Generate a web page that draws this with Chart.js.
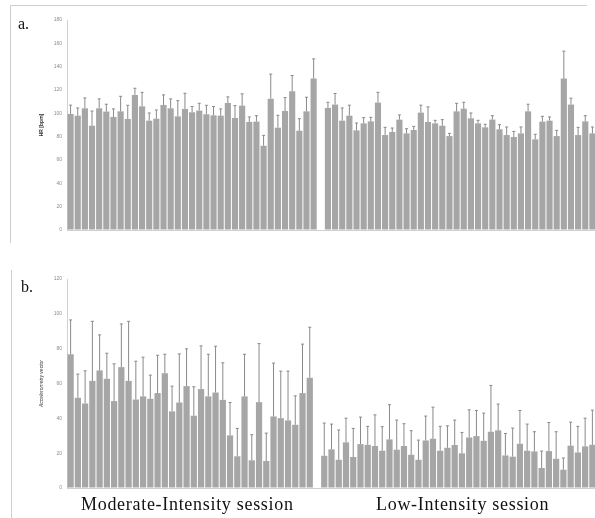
<!DOCTYPE html>
<html>
<head>
<meta charset="utf-8">
<script src="https://cdn.jsdelivr.net/npm/chart.js@4.4.1/dist/chart.umd.min.js"></script>
<style>
  html, body { margin: 0; padding: 0; width: 595px; height: 518px; overflow: hidden; background: #fff; }
  .wrap { position: absolute; }
  .lbl { position: absolute; font-family: "Liberation Serif", "DejaVu Serif", serif; color: #111; white-space: nowrap; }
  .frame { position: absolute; background: #cfcfcf; }
</style>
</head>
<body>
<div class="frame" style="left:10px;top:5px;width:577px;height:1px;"></div>
<div class="frame" style="left:10px;top:5px;width:1px;height:238px;"></div>
<div class="frame" style="left:11px;top:270px;width:1px;height:248px;"></div>

<div class="wrap" style="left:0;top:0;width:600px;height:245px;"><canvas id="chartA" width="600" height="245"></canvas></div>
<div class="wrap" style="left:0;top:260px;width:600px;height:240px;"><canvas id="chartB" width="600" height="240"></canvas></div>

<div class="lbl" style="left:18px;top:15px;font-size:16px;">a.</div>
<div class="lbl" style="left:21px;top:278px;font-size:16px;">b.</div>
<div class="lbl" style="left:81px;top:494px;font-size:18px;letter-spacing:0.7px;">Moderate-Intensity session</div>
<div class="lbl" style="left:376px;top:494px;font-size:18px;letter-spacing:0.7px;">Low-Intensity session</div>

<script>
// ---- Panel a: heart rate (bpm), mean and SD per participant ----
const hrModerate = [99.5, 98, 104.3, 89.4, 104.3, 101.5, 96.9, 101.7, 95.2, 115.8, 106, 93.7, 95.4, 107.2, 104.3, 97.4, 103.8, 100.9, 102.3, 99.2, 98.3, 98, 108.9, 96, 106.6, 92.6, 92.9, 72.2, 112.6, 87.7, 102, 118.9, 85.1, 101.7, 129.8];
const hrModerateSD = [7.5, 6.6, 8.9, 12.6, 8.1, 6.3, 6.9, 12.9, 11.7, 5.7, 12, 6.6, 7.5, 8.6, 8.1, 13.5, 13.4, 4.9, 6.3, 7.7, 7.5, 5.8, 5.2, 10.6, 10.1, 4.3, 5.1, 8.9, 21, 10.6, 11.5, 13.5, 10.3, 12.1, 16.9];
const hrLow = [104.6, 107.5, 93.7, 98, 85.4, 91.4, 93.1, 109.2, 81.4, 84, 94.6, 82.8, 85.7, 100.6, 92.6, 91.4, 89.4, 80.5, 101.7, 104, 95.7, 91.4, 88, 94.6, 86.3, 81.4, 79.7, 82.8, 101.7, 77.7, 92.9, 93.7, 80.5, 129.8, 107.5, 81.4, 93.1, 82.8];
const hrLowSD = [4.9, 9.5, 10.9, 9, 6.3, 4.9, 3.5, 8.8, 6.6, 3.4, 4, 4, 3.1, 6.4, 12.9, 2.6, 5.2, 2.3, 6.9, 5.5, 4.6, 2.6, 2.6, 3.4, 4, 6.9, 4.8, 5.5, 6.1, 4.3, 4.5, 3.2, 4.9, 23.5, 5.5, 6.6, 4.9, 5.5];

// ---- Panel b: accelerometry vector, mean and SD per participant ----
const accModerate = [76.8, 51.8, 48.5, 61.5, 67.5, 62.7, 49.9, 69.4, 61.5, 50.8, 52.6, 51.2, 54.5, 65.9, 44, 49.1, 58.5, 41.5, 56.8, 52.6, 54.8, 50.6, 30.2, 18.2, 52.6, 15.9, 49.3, 15.5, 41.1, 40.1, 38.8, 36.3, 54.5, 63.3];
const accModerateSD = [19.7, 13.6, 18.8, 34.2, 20.4, 14.7, 21.4, 24.8, 34.2, 22, 22.5, 13.6, 21.7, 10.9, 14.5, 27.9, 21.4, 16.6, 24.8, 24.2, 26.6, 21.3, 18.9, 16, 24.2, 14.7, 33.6, 16, 30.6, 27, 28.3, 16.6, 28.1, 29];
const accLow = [18.5, 22.2, 16.2, 26.2, 17.8, 25.2, 24.8, 24.1, 21.4, 27.9, 22, 24.1, 19.1, 16.2, 27.3, 28.3, 21.4, 23.1, 24.7, 19.9, 29, 29.8, 27.1, 32.3, 33.1, 18.7, 18, 25.4, 21.4, 21, 11.5, 21.2, 16.8, 10.5, 24.3, 20.4, 23.9, 24.8];
const accLowSD = [18.8, 14.5, 17.1, 13.9, 16.4, 15.5, 10.6, 17.9, 13.8, 19.9, 17, 12.8, 13.8, 11.3, 14, 18.1, 14, 12.6, 14.3, 12, 15.9, 14.7, 15.9, 26.6, 15.1, 12.6, 16.4, 19.1, 15.3, 11.3, 9.7, 16.4, 15.5, 6.7, 13.5, 15, 16.2, 19.9];

const hrTicks = [0, 20, 40, 60, 80, 100, 120, 140, 160, 180];
const accTicks = [0, 20, 40, 60, 80, 100, 120];

Chart.defaults.font.family = '"Liberation Sans", Arial, sans-serif';

function labelsFor(mod, low) {
  return [...mod.map((_, i) => 'M' + (i + 1)), '', ...low.map((_, i) => 'L' + (i + 1))];
}

const errorBars = {
  id: 'errorBars',
  afterDatasetsDraw(chart) {
    const ctx = chart.ctx;
    const ys = chart.scales.y;
    chart.data.datasets.forEach((ds, di) => {
      const meta = chart.getDatasetMeta(di);
      meta.data.forEach((el, i) => {
        const v = ds.data[i];
        const sd = ds.sd[i];
        if (v == null || sd == null) return;
        const yt = ys.getPixelForValue(v + sd);
        ctx.save();
        ctx.strokeStyle = '#8a8a8a';
        ctx.lineWidth = 1;
        ctx.beginPath();
        ctx.moveTo(el.x, el.y);
        ctx.lineTo(el.x, yt);
        ctx.moveTo(el.x - 1.5, yt);
        ctx.lineTo(el.x + 1.5, yt);
        ctx.stroke();
        ctx.restore();
      });
    });
  }
};

function makeChart(id, mod, modSD, low, lowSD, ticks, title, titleFont, pad) {
  const data = [...mod, null, ...low];
  const sd = [...modSD, null, ...lowSD];
  return new Chart(document.getElementById(id), {
    type: 'bar',
    data: {
      labels: labelsFor(mod, low),
      datasets: [{
        data: data,
        sd: sd,
        backgroundColor: '#a6a6a6',
        borderWidth: 0,
        categoryPercentage: 1.0,
        barPercentage: 0.86
      }]
    },
    options: {
      responsive: false,
      animation: false,
      layout: { padding: pad },
      plugins: { legend: { display: false }, tooltip: { enabled: false } },
      scales: {
        x: { display: false },
        y: {
          min: ticks[0],
          max: ticks[ticks.length - 1],
          afterBuildTicks(scale) { scale.ticks = ticks.map(v => ({ value: v })); },
          afterFit(scale) { scale.width = 32; },
          border: { display: true, color: '#d0d0d0', width: 1 },
          grid: {
            drawTicks: false,
            color: (c) => (c.tick && c.tick.value === 0) ? '#d0d0d0' : 'rgba(0,0,0,0)'
          },
          ticks: { padding: 5, font: { size: 5 }, color: '#8c8c8c' },
          title: { display: true, text: title, font: titleFont, color: '#333', padding: { top: 4, bottom: 2 } }
        }
      }
    },
    plugins: [errorBars]
  });
}

makeChart('chartA', hrModerate, hrModerateSD, hrLow, hrLowSD, hrTicks,
  'HR [bpm]', { size: 5, weight: 'bold' }, { left: 35, right: 4, top: 20, bottom: 15 });
makeChart('chartB', accModerate, accModerateSD, accLow, accLowSD, accTicks,
  'Accelerometry vector', { size: 5, style: 'italic' }, { left: 35, right: 4, top: 19, bottom: 12 });
</script>
</body>
</html>
